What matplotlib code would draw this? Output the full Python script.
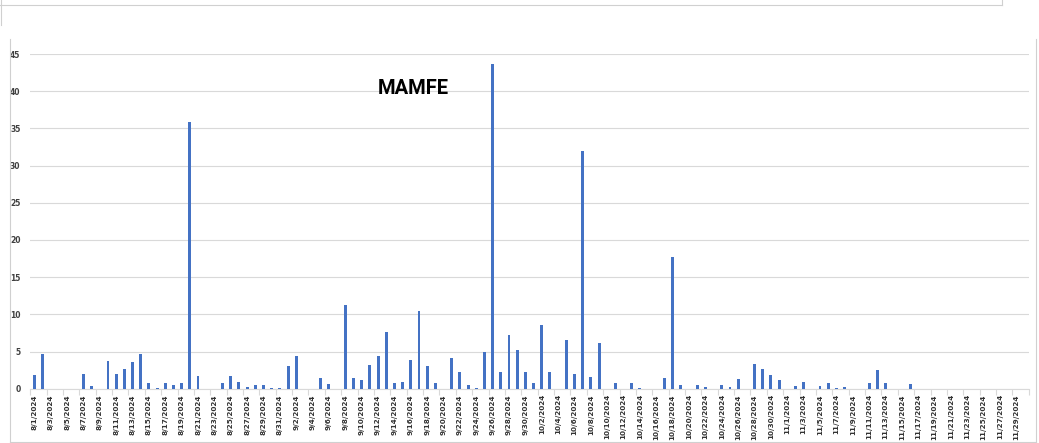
import numpy as np
import pandas as pd
import matplotlib.pyplot as plt
from matplotlib.lines import Line2D

# daily rainfall at Mamfe, 8/1/2024 - 11/30/2024
aug = [1.8, 4.7, 0, 0, 0, 0, 2.0, 0.3, 0, 3.7, 2.0, 2.7, 3.6, 4.7, 0.8, 0.13,
       0.8, 0.55, 0.8, 35.9, 1.7, 0, 0, 0.7, 1.75, 0.9, 0.22, 0.54, 0.54, 0.13, 0.13]
sep = [3.1, 4.4, 0, 0, 1.5, 0.58, 0, 11.2, 1.5, 1.16, 3.2, 4.4, 7.6, 0.7, 0.9,
       3.9, 10.5, 3.1, 0.8, 0, 4.1, 2.2, 0.54, 0.13, 5.0, 43.6, 2.2, 7.2, 5.2, 2.3]
oct_ = [0.7, 8.5, 2.2, 0, 6.5, 2.0, 32.0, 1.56, 6.2, 0, 0.7, 0, 0.7, 0.13, 0, 0,
        1.47, 17.7, 0.54, 0, 0.54, 0.22, 0, 0.54, 0.22, 1.25, 0, 3.35, 2.7, 1.8, 1.16]
nov = [0, 0.36, 0.9, 0, 0.36, 0.8, 0.13, 0.18, 0, 0, 0.7, 2.5, 0.7, 0, 0, 0.62,
       0, 0, 0, 0, 0, 0, 0, 0, 0, 0, 0, 0, 0, 0]
yticks = [0, 5, 10, 15, 20, 25, 30, 35, 40, 45]

dates = pd.date_range("2024-08-01", "2024-11-30", freq="D")
values = aug + sep + oct_ + nov
labels = [f"{d.month}/{d.day}/{d.year}" for d in dates]
x = np.arange(len(dates))

fig = plt.figure(figsize=(10.39, 4.43), dpi=100)
ax = fig.add_axes([0.0291, 0.1226, 0.9610, 0.7555])

ax.bar(x, values, width=0.36, color="#4472C4", zorder=3)

ax.set_xlim(-0.5, len(dates) - 0.5)
ax.set_ylim(0, 45)
ax.set_yticks(yticks)
ax.set_yticklabels([str(v) for v in yticks], fontsize=5.5, color="#404040",
                   fontweight="bold")
ax.grid(axis="y", color="#D9D9D9", linewidth=0.8, zorder=0)

ax.set_xticks(x[::2])
ax.set_xticklabels(labels[::2], rotation=90, fontsize=5.2, color="#333333",
                   fontweight="bold", va="top", ha="center")
ax.set_xticks(np.arange(-0.5, len(dates), 2), minor=True)
ax.tick_params(axis="x", which="major", length=0, pad=4)
ax.tick_params(axis="x", which="minor", length=4.5, color="#D9D9D9", width=0.8)
ax.tick_params(axis="y", length=0, pad=7)

for side in ["top", "right", "left"]:
    ax.spines[side].set_visible(False)
ax.spines["bottom"].set_color("#D9D9D9")
ax.spines["bottom"].set_linewidth(0.8)

ax.text(0.384, 0.897, "MAMFE", transform=ax.transAxes, ha="center", va="center",
        fontsize=14.5, fontweight="bold", family="Roboto", color="black")

# chart frame and the window edge above it
W, H = 1039, 443
def px_line(xs, ys, color="#D0D0D0", lw=0.8):
    fig.add_artist(Line2D([v / W for v in xs], [1 - v / H for v in ys],
                          transform=fig.transFigure, color=color, linewidth=lw))

px_line([0, 1002], [4.5, 4.5])
px_line([1002, 1002], [0, 4.5])
px_line([0.5, 0.5], [0, 25])
px_line([10, 10], [39, 442])
px_line([1035.5, 1035.5], [39, 442])
px_line([10, 1035.5], [442, 442])

fig.savefig("out.png", dpi=100)
